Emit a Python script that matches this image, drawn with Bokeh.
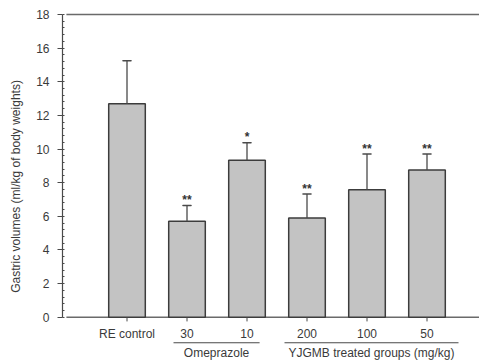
from bokeh.plotting import figure
from bokeh.models import ColumnDataSource, FixedTicker, Range1d
from bokeh.core.properties import value
from bokeh.embed import file_html
from bokeh.resources import INLINE

categories = ["RE control", "30", "10", "200", "100", "50"]
volumes = [12.7, 5.7, 9.33, 5.9, 7.58, 8.75]
errors = [2.55, 0.95, 1.05, 1.42, 2.12, 0.95]
signif = ["", "**", "*", "**", "**", "**"]
group_names = ["Omeprazole", "YJGMB treated groups (mg/kg)"]
group_start = [1.775, 3.625]
group_end = [3.21, 6.525]
y_ticks = [0, 2, 4, 6, 8, 10, 12, 14, 16, 18]

pos = list(range(1, len(categories) + 1))
tops = [v + e for v, e in zip(volumes, errors)]
src = ColumnDataSource(dict(x=pos, v=volumes, top=tops, star=signif))

FONT = "Liberation Sans"
TXT = "#3a3a3a"
LINE = "#4a4a4a"
X0, X1 = -0.075, 6.875

p = figure(width=479, height=360, output_backend="svg", toolbar_location=None,
           x_range=Range1d(X0, X1), y_range=Range1d(-2.574, 18.119),
           x_axis_location=None, min_border_left=62, min_border_right=0,
           min_border_top=12, min_border_bottom=0)
p.outline_line_color = None
p.grid.visible = False
p.background_fill_color = "white"

ya = p.yaxis[0]
ya.bounds = (0, 18)
ya.ticker = FixedTicker(ticks=y_ticks,
                        minor_ticks=[i * 0.4 for i in range(0, 46)])
ya.axis_line_color = LINE
ya.axis_line_width = 1.2
ya.major_tick_line_color = LINE
ya.major_tick_out = 5
ya.major_tick_in = 0
ya.minor_tick_line_color = LINE
ya.minor_tick_out = 0
ya.minor_tick_in = 2
ya.major_label_text_font = FONT
ya.major_label_text_font_size = "12px"
ya.major_label_text_color = TXT
ya.major_label_standoff = 8
ya.axis_label = "Gastric volumes (ml/kg of body weights)"
ya.axis_label_text_font = FONT
ya.axis_label_text_font_size = "12px"
ya.axis_label_text_font_style = "normal"
ya.axis_label_text_color = TXT
ya.axis_label_standoff = 10

# frame lines (top & bottom)
p.segment(x0=[-0.01, -0.01], x1=[X1, X1], y0=[0, 18], y1=[0, 18],
          line_color="#6a6a6a", line_width=1.5)

# bars
p.vbar(x="x", top="v", bottom=0, width=0.61, source=src,
       fill_color="#c3c3c3", line_color="#3c3c3c", line_width=1.5)

# upper error bars
p.segment(x0="x", x1="x", y0="v", y1="top", source=src,
          line_color=LINE, line_width=1.3)
p.rect(x="x", y="top", width=0.14, height=0.0001, source=src,
       line_color=LINE, line_width=1.5, fill_color=None)

# significance stars
p.text(x="x", y="top", text="star", source=src, text_align="center",
       text_baseline="alphabetic", y_offset=-5.5, text_font=value(FONT),
       text_font_size="12px", text_font_style="bold", text_color="#333333")

# x tick marks and labels
p.segment(x0=pos, x1=pos, y0=[0] * 6, y1=[-0.25] * 6,
          line_color=LINE, line_width=1)
p.text(x=pos, y=[-0.97] * 6, text=categories, text_align="center",
       text_baseline="middle", text_font=value(FONT), text_font_size="12px",
       text_color=TXT)

# group labels
p.segment(x0=group_start, x1=group_end, y0=[-1.52] * 2, y1=[-1.52] * 2,
          line_color=LINE, line_width=1.2)
p.text(x=[(a + b) / 2 for a, b in zip(group_start, group_end)],
       y=[-2.1] * 2, text=group_names, text_align="center",
       text_baseline="middle", text_font=value(FONT), text_font_size="12px",
       text_color=TXT)

open("out.html", "w").write(file_html(p, INLINE))
